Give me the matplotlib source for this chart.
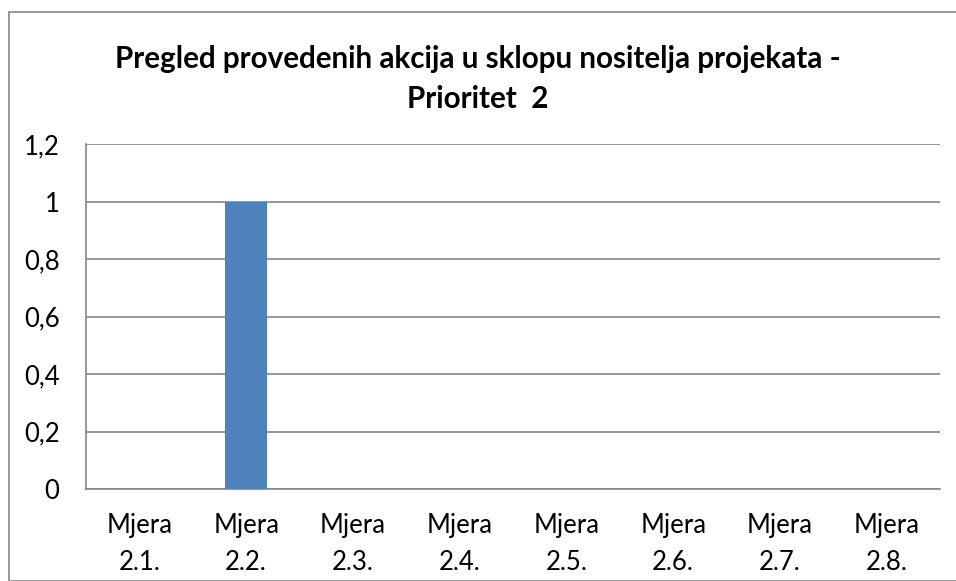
import matplotlib
matplotlib.use("Agg")
import matplotlib.pyplot as plt
from matplotlib.patches import Rectangle

categories = ["Mjera\n2.1.", "Mjera\n2.2.", "Mjera\n2.3.", "Mjera\n2.4.",
              "Mjera\n2.5.", "Mjera\n2.6.", "Mjera\n2.7.", "Mjera\n2.8."]
values = [0, 1, 0, 0, 0, 0, 0, 0]
yticks = [0, 0.2, 0.4, 0.6, 0.8, 1.0, 1.2]
yticklabels = ["0", "0,2", "0,4", "0,6", "0,8", "1", "1,2"]
title = "Pregled provedenih akcija u sklopu nositelja projekata -\nPrioritet  2"

plt.rcParams['font.family'] = ['Lato', 'DejaVu Sans']

W, H = 956, 581
fig = plt.figure(figsize=(W / 100, H / 100), dpi=100)
fig.patch.set_facecolor("white")

# outer chart border
fig.patches.append(Rectangle((9 / W, 0), 1, 1 - 12 / H, transform=fig.transFigure,
                             fill=False, edgecolor="#868686", linewidth=1.2))

left, right, top, bottom = 86, 940, 144, 489
ax = fig.add_axes([left / W, 1 - bottom / H, (right - left) / W, (bottom - top) / H])

x = list(range(len(categories)))
ax.bar(x, values, width=0.40, color="#4F81BD", zorder=3)
ax.set_xlim(-0.5, len(categories) - 0.5)
ax.set_ylim(0, 1.2)
ax.set_yticks(yticks)
ax.set_yticklabels(yticklabels, fontsize=18.5)
ax.set_xticks(x)
ax.set_xticklabels(categories, fontsize=18.5, linespacing=1.6)
ax.tick_params(axis="both", length=0, colors="black")
ax.tick_params(axis="y", pad=19)
ax.tick_params(axis="x", pad=17)

ax.grid(axis="y", color="#868686", linewidth=1.2, zorder=0)
ax.set_axisbelow(True)
for s in ["top", "right"]:
    ax.spines[s].set_visible(False)
ax.spines["left"].set_color("#868686")
ax.spines["left"].set_linewidth(1.2)
ax.spines["bottom"].set_color("#868686")
ax.spines["bottom"].set_linewidth(1.2)

fig.text(478 / W, 1 - 79 / H, title, ha="center", va="center",
         fontsize=21.3, fontweight="bold", linespacing=1.5)

fig.savefig("out.png", dpi=100, facecolor="white")
